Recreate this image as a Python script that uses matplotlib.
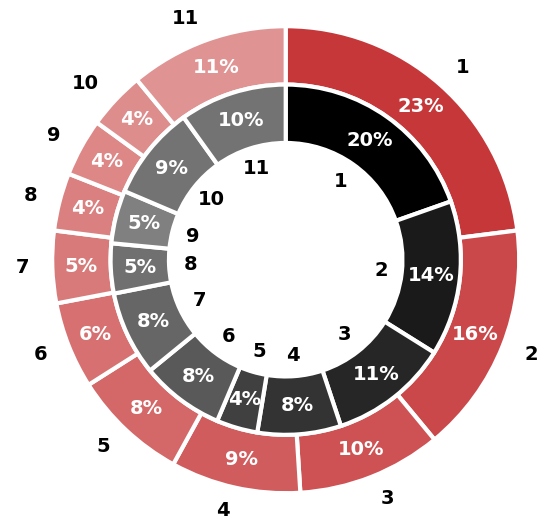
import matplotlib
matplotlib.use('Agg')
import matplotlib.pyplot as plt

plt.rcParams['font.family'] = ['DejaVu Sans']

# outer ring (red) and inner ring (grey) shares, in percent
outer_labels = ['1', '2', '3', '4', '5', '6', '7', '8', '9', '10', '11']
outer_values = [23, 16, 10, 9, 8, 6, 5, 4, 4, 4, 11]
outer_colors = ['#c6373a', '#cb484a', '#ce5254', '#d15c5e', '#d46767', '#d77171',
                '#d97a7a', '#db8080', '#dd8787', '#de8d8d', '#e09393']

inner_labels = ['1', '2', '3', '4', '5', '6', '7', '8', '9', '10', '11']
inner_values = [19.6, 14.3, 11.0, 7.7, 3.8, 7.7, 7.8, 4.6, 4.9, 8.7, 9.9]
inner_colors = ['#000000', '#1a1a1a', '#262626', '#333333', '#404040', '#595959',
                '#666666', '#707070', '#808080', '#737373', '#737373']

fig = plt.figure(figsize=(5.4, 5.17), dpi=100)
ax = fig.add_axes([0, 0, 1, 1])

wedge = dict(width=0.25, edgecolor='white', linewidth=3)

_, t_out, p_out = ax.pie(outer_values, labels=outer_labels, colors=outer_colors,
                         radius=1.0, startangle=90, counterclock=False,
                         autopct='%.0f%%', pctdistance=0.875, labeldistance=1.1,
                         wedgeprops=wedge)
_, t_in, p_in = ax.pie(inner_values, labels=inner_labels, colors=inner_colors,
                       radius=0.75, startangle=90, counterclock=False,
                       autopct='%.0f%%', pctdistance=0.625 / 0.75, labeldistance=0.41 / 0.75,
                       wedgeprops=wedge)

for t in list(t_out) + list(t_in):
    t.set_fontsize(14)
    t.set_fontweight('bold')
    t.set_color('black')
for t in t_in:
    t.set_ha('center')
for t in list(p_out) + list(p_in):
    t.set_fontsize(14)
    t.set_fontweight('bold')
    t.set_color('white')

ax.set_xlim(-1.2236, 1.0891)
ax.set_ylim(-1.1019, 1.1122)
ax.set_aspect('equal')
ax.axis('off')

fig.savefig('out.png', dpi=100)
